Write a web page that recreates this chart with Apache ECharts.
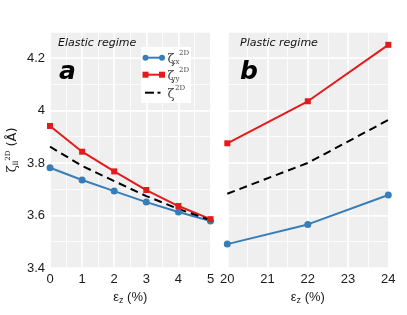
<!DOCTYPE html>
<html><head><meta charset="utf-8">
<script src="https://cdn.jsdelivr.net/npm/echarts@6/dist/echarts.min.js"></script>
<style>html,body{margin:0;padding:0;background:#fff}#c{width:407px;height:315px}</style>
</head><body><div id="c"></div>
<script>
// Data
const strainElastic = [0, 1, 2, 3, 4, 5];
const xxElastic = [3.782, 3.735, 3.693, 3.651, 3.613, 3.579];
const yyElastic = [3.941, 3.843, 3.768, 3.697, 3.636, 3.586];
const avgElastic = [3.862, 3.789, 3.731, 3.674, 3.625, 3.582];
const strainPlastic = [20, 22, 24];
const xxPlastic = [3.491, 3.566, 3.678];
const yyPlastic = [3.875, 4.035, 4.250];
const avgPlastic = [3.683, 3.800, 3.964];

const BLUE = '#377eb8', RED = '#e41a1c', BG = '#efefef', TXT = '#1a1a1a';
const pairs = (xs, ys) => xs.map((x, i) => [x, ys[i]]);

const chart = echarts.init(document.getElementById('c'), null, {renderer: 'canvas'});

const gridLeft = {left: 50, top: 31.7, width: 160.5, height: 236.3, show: true, backgroundColor: BG, borderWidth: 0};
const gridRight = {left: 227.3, top: 31.7, width: 161, height: 236.3, show: true, backgroundColor: BG, borderWidth: 0};

const lbl = {color: TXT, fontSize: 13, fontFamily: 'Liberation Sans, Arial, sans-serif'};
const major = {show: true, lineStyle: {color: '#fff', width: 1.5}};
const minor = {show: true, lineStyle: {color: '#fff', width: 0.8}};

function xAxis(gi, min, max) {
  return {
    type: 'value', gridIndex: gi, min, max, interval: 1,
    axisLine: {show: false}, axisTick: {show: false},
    axisLabel: Object.assign({margin: 5}, lbl),
    splitLine: major,
    name: '{e|ε}{s|z}{t| (%)}', nameLocation: 'middle', nameGap: 16,
    nameTextStyle: {color: TXT, rich: {
      e: {fontSize: 13, fontFamily: 'Liberation Sans, Arial', color: TXT},
      s: {fontSize: 9, fontFamily: 'Liberation Sans, Arial', color: TXT, padding: [7, 0, 0, 0]},
      t: {fontSize: 13, fontFamily: 'Liberation Sans, Arial', color: TXT}
    }}
  };
}
function minorAxis(gi, min, max, interval) {
  return {
    type: 'value', gridIndex: gi, min, max, interval,
    axisLine: {show: false}, axisTick: {show: false}, axisLabel: {show: false},
    splitLine: minor, z: 0
  };
}
function yAxis(gi, showLabels) {
  return {
    type: 'value', gridIndex: gi, min: 3.4, max: 4.3, interval: 0.2,
    axisLine: {show: false}, axisTick: {show: false},
    axisLabel: Object.assign({show: showLabels, margin: 5, formatter: v => v > 4.25 ? '' : String(+v.toFixed(1))}, lbl),
    splitLine: major,
    name: showLabels ? '{z|ζ}{s|ll}{p|2D}{t| (Å)}' : '', nameLocation: 'middle', nameGap: 29,
    nameTextStyle: {color: TXT, rich: {
      z: {fontSize: 13, fontFamily: 'DejaVu Serif, serif', color: TXT},
      s: {fontSize: 7, fontFamily: 'DejaVu Serif, serif', color: TXT, padding: [7, 0, 0, 0]},
      p: {fontSize: 7, fontFamily: 'DejaVu Serif, serif', color: TXT, padding: [0, 0, 9, 0]},
      t: {fontSize: 13, fontFamily: 'DejaVu Sans, sans-serif', color: TXT}
    }}
  };
}

function ser(name, gi, data, color, symbol, dashed) {
  return {
    name, type: 'line', xAxisIndex: gi, yAxisIndex: gi, data,
    symbol: dashed ? 'none' : symbol, symbolSize: symbol === 'rect' ? 6 : 7,
    showSymbol: !dashed, clip: true, animation: false, silent: true,
    lineStyle: {color, width: 2, type: dashed ? [8, 5] : 'solid'},
    itemStyle: {color}
  };
}

const serifFont = 'DejaVu Serif, Liberation Serif, serif';
const Z = 100;
const LG = '#444';
const legendItems = (cy, sub, supX) => [
  {type: 'text', z: Z + 1, x: 167.5, y: cy + 1.5, style: {text: 'ζ', font: '13px ' + serifFont, fill: LG, verticalAlign: 'middle'}},
  sub ? {type: 'text', z: Z + 1, x: 171.5, y: cy + 4.5, style: {text: sub, font: '7px ' + serifFont, fill: LG, verticalAlign: 'middle'}} : null,
  {type: 'text', z: Z + 1, x: supX, y: cy - 4.5, style: {text: '2D', font: '7px ' + serifFont, fill: LG, verticalAlign: 'middle'}}
].filter(Boolean);

const option = {
  animation: false,
  grid: [gridLeft, gridRight],
  xAxis: [xAxis(0, 0, 5), xAxis(1, 20, 24), minorAxis(0, 0, 5, 0.5), minorAxis(1, 20, 24, 0.5)],
  yAxis: [yAxis(0, true), yAxis(1, false), minorAxis(0, 3.4, 4.3, 0.1), minorAxis(1, 3.4, 4.3, 0.1)],
  series: [
    ser('xx', 0, pairs(strainElastic, xxElastic), BLUE, 'circle', false),
    ser('yy', 0, pairs(strainElastic, yyElastic), RED, 'rect', false),
    ser('avg', 0, pairs(strainElastic, avgElastic), '#000', 'none', true),
    ser('xx', 1, pairs(strainPlastic, xxPlastic), BLUE, 'circle', false),
    ser('yy', 1, pairs(strainPlastic, yyPlastic), RED, 'rect', false),
    ser('avg', 1, pairs(strainPlastic, avgPlastic), '#000', 'none', true)
  ],
  graphic: [
    {type: 'text', z: Z, x: 58, y: 38, style: {text: 'Elastic regime', font: 'italic 11px DejaVu Sans, sans-serif', fill: '#111'}},
    {type: 'text', z: Z, x: 59, y: 60, style: {text: 'a', font: 'italic bold 25px DejaVu Sans, sans-serif', fill: '#000'}},
    {type: 'text', z: Z, x: 240, y: 38, style: {text: 'Plastic regime', font: 'italic 11px DejaVu Sans, sans-serif', fill: '#111'}},
    {type: 'text', z: Z, x: 240, y: 60, style: {text: 'b', font: 'italic bold 25px DejaVu Sans, sans-serif', fill: '#000'}},
    {type: 'rect', z: Z, shape: {x: 141, y: 47, width: 50, height: 56}, style: {fill: '#fff'}},
    {type: 'line', z: Z + 1, shape: {x1: 145.5, y1: 57.7, x2: 162, y2: 57.7}, style: {stroke: BLUE, lineWidth: 2}},
    {type: 'circle', z: Z + 1, shape: {cx: 145.5, cy: 57.7, r: 3}, style: {fill: BLUE}},
    {type: 'circle', z: Z + 1, shape: {cx: 162, cy: 57.7, r: 3}, style: {fill: BLUE}},
    {type: 'line', z: Z + 1, shape: {x1: 145.5, y1: 74.7, x2: 162, y2: 74.7}, style: {stroke: RED, lineWidth: 2}},
    {type: 'rect', z: Z + 1, shape: {x: 142.5, y: 71.7, width: 6, height: 6}, style: {fill: RED}},
    {type: 'rect', z: Z + 1, shape: {x: 159, y: 71.7, width: 6, height: 6}, style: {fill: RED}},
    {type: 'line', z: Z + 1, shape: {x1: 145, y1: 92.7, x2: 154, y2: 92.7}, style: {stroke: '#000', lineWidth: 2}},
    {type: 'line', z: Z + 1, shape: {x1: 157.5, y1: 92.7, x2: 160.5, y2: 92.7}, style: {stroke: '#000', lineWidth: 2}}
  ].concat(legendItems(57.7, 'xx', 179), legendItems(74.7, 'yy', 179), legendItems(92.7, null, 175))
};
chart.setOption(option);
</script></body></html>
